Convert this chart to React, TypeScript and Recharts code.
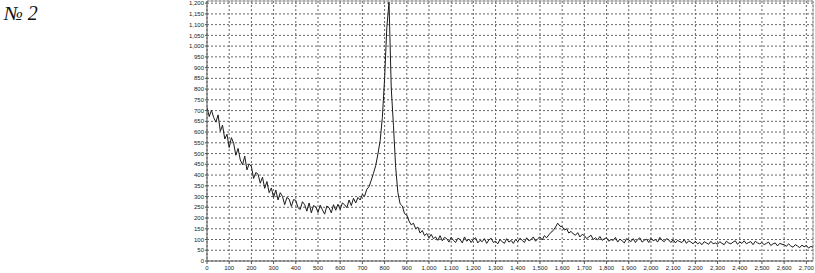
import { LineChart, Line, XAxis, YAxis, CartesianGrid, ReferenceLine } from 'recharts'

// Raman shift sampled every 10 units, starting at 0
const STEP = 10

const intensity = [
  715, 672, 702, 668, 646, 680, 604, 632, 568, 590,
  528, 574, 548, 492, 524, 470, 448, 488, 424, 452,
  440, 384, 412, 404, 362, 390, 338, 370, 318, 340,
  296, 330, 284, 318, 300, 262, 296, 288, 254, 286,
  282, 248, 240, 276, 262, 232, 270, 224, 258, 252,
  226, 260, 238, 218, 256, 248, 224, 262, 236, 264,
  240, 270, 262, 248, 284, 258, 292, 270, 296, 284,
  310, 302, 334, 346, 376, 408, 444, 498, 560, 668,
  848, 1085, 1205, 805, 630, 435, 318, 266, 256, 220,
  214, 186, 168, 176, 150, 158, 130, 142, 118, 128,
  108, 124, 104, 112, 96, 118, 94, 110, 104, 88,
  110, 96, 86, 106, 100, 84, 112, 92, 102, 86,
  100, 108, 84, 96, 90, 104, 82, 98, 106, 86,
  92, 80, 100, 90, 82, 104, 88, 96, 82, 100,
  90, 106, 96, 86, 108, 94, 100, 112, 92, 104,
  112, 98, 118, 108, 122, 134, 142, 158, 176, 162,
  160, 144, 150, 130, 138, 126, 120, 132, 112, 124,
  118, 104, 112, 120, 100, 108, 98, 114, 96, 104,
  108, 92, 100, 96, 110, 88, 102, 94, 84, 104,
  98, 90, 104, 86, 100, 108, 88, 96, 102, 86,
  106, 94, 100, 88, 110, 96, 90, 104, 98, 86,
  100, 84, 96, 90, 86, 100, 82, 94, 88, 80,
  92, 80, 86, 76, 90, 84, 78, 92, 80, 84,
  78, 90, 82, 76, 92, 84, 80, 88, 94, 78,
  88, 82, 94, 80, 86, 90, 76, 92, 84, 80,
  86, 76, 82, 88, 72, 80, 84, 70, 82, 78,
  76, 68, 80, 70, 64, 76, 70, 62, 74, 66,
  72, 60, 68, 64,
]

const xTicks = [
  0, 100, 200, 300, 400, 500, 600, 700, 800, 900, 1000, 1100, 1200, 1300,
  1400, 1500, 1600, 1700, 1800, 1900, 2000, 2100, 2200, 2300, 2400, 2500, 2600, 2700,
]

const yTicks = [
  0, 50, 100, 150, 200, 250, 300, 350, 400, 450, 500, 550, 600, 650, 700,
  750, 800, 850, 900, 950, 1000, 1050, 1100, 1150, 1200,
]

const X_MAX = 2730
const Y_MAX = 1210

const data = intensity.map((v, i) => ({ shift: i * STEP, intensity: v }))

const fmt = (v: number) => v.toLocaleString('en-US')

const tickStyle = { fontSize: 6, fill: '#222', fontFamily: '"Liberation Sans", Arial, sans-serif' }

export default function App() {
  return (
    <div style={{ position: 'absolute', left: 0, top: 0, width: 815, height: 273, background: '#fff' }}>
      <div
        style={{
          position: 'absolute',
          left: 4,
          top: 3,
          fontFamily: '"Liberation Serif", "DejaVu Serif", serif',
          fontStyle: 'italic',
          fontSize: 20,
          lineHeight: '20px',
          color: '#111',
        }}
      >
        № 2
      </div>
      <LineChart
        width={815}
        height={273}
        data={data}
        margin={{ top: 1, right: 2, left: 0, bottom: 0 }}
      >
        <CartesianGrid stroke="#666" strokeDasharray="2 2" />
        <XAxis
          type="number"
          dataKey="shift"
          domain={[0, X_MAX]}
          ticks={xTicks}
          interval={0}
          tickFormatter={fmt}
          tick={tickStyle}
          tickSize={3}
          tickMargin={2}
          height={12}
          stroke="#555"
          allowDataOverflow
        />
        <YAxis
          type="number"
          domain={[0, Y_MAX]}
          ticks={yTicks}
          interval={0}
          tickFormatter={fmt}
          tick={tickStyle}
          tickSize={2}
          tickMargin={1}
          width={207}
          stroke="#555"
          allowDataOverflow
        />
        <ReferenceLine x={X_MAX} stroke="#aaa" />
        <ReferenceLine y={Y_MAX} stroke="#aaa" />
        <Line
          type="linear"
          dataKey="intensity"
          stroke="#1a1a1a"
          strokeWidth={1}
          dot={false}
          isAnimationActive={false}
        />
      </LineChart>
    </div>
  )
}
